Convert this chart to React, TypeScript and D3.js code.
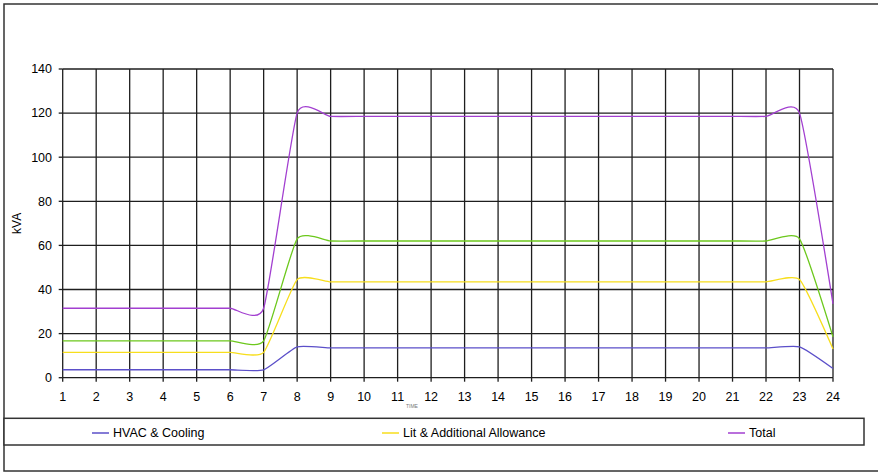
import React from "react";
import * as d3 from "d3";

// Hour of day on the x axis
const hours = [1, 2, 3, 4, 5, 6, 7, 8, 9, 10, 11, 12, 13, 14, 15, 16, 17, 18, 19, 20, 21, 22, 23, 24];

// Load profiles in kVA, one value per hour
const hvac = [3.6, 3.6, 3.6, 3.6, 3.6, 3.6, 3.6, 14, 13.5, 13.5, 13.5, 13.5, 13.5, 13.5, 13.5, 13.5, 13.5, 13.5, 13.5, 13.5, 13.5, 13.5, 14, 4.2];
const lit = [11.5, 11.5, 11.5, 11.5, 11.5, 11.5, 11.5, 44.5, 43.5, 43.5, 43.5, 43.5, 43.5, 43.5, 43.5, 43.5, 43.5, 43.5, 43.5, 43.5, 43.5, 43.5, 44.5, 13];
const generalPower = [16.7, 16.7, 16.7, 16.7, 16.7, 16.7, 16.7, 63, 62, 62, 62, 62, 62, 62, 62, 62, 62, 62, 62, 62, 62, 62, 63, 18.5];
const total = [31.5, 31.5, 31.5, 31.5, 31.5, 31.5, 31.5, 120, 118.5, 118.5, 118.5, 118.5, 118.5, 118.5, 118.5, 118.5, 118.5, 118.5, 118.5, 118.5, 118.5, 118.5, 120, 33.5];

const yTicks = [0, 20, 40, 60, 80, 100, 120, 140];

const legendItems = [
  { label: "HVAC & Cooling", color: "#5b4fc9", x: 92 },
  { label: "Lit & Additional Allowance", color: "#f7de1c", x: 382 },
  { label: "Total", color: "#a23fd0", x: 728 },
];

const seriesList = [
  { values: hvac, color: "#5b4fc9" },
  { values: lit, color: "#f7de1c" },
  { values: generalPower, color: "#6cc81c" },
  { values: total, color: "#a23fd0" },
];

export default function App() {
  const W = 878;
  const H = 473;
  const x = d3.scaleLinear().domain([1, 24]).range([62.7, 833]);
  const y = d3.scaleLinear().domain([0, 140]).range([377.7, 69]);
  const font = "'Liberation Sans', Arial, sans-serif";
  const gridColor = "#1e1e1e";

  const line = (vals: number[]) =>
    d3
      .line<number>()
      .x((_, i) => x(hours[i]))
      .y((v) => y(v))
      .curve(d3.curveCardinal.tension(0.5))(vals) || "";

  return (
    <svg
      width={W}
      height={H}
      style={{ position: "absolute", left: 0, top: 0, background: "#fff" }}
      fontFamily={font}
    >
      {/* chart frame */}
      <rect x={4} y={4} width={W + 10} height={467} fill="#fff" stroke="#333" strokeWidth={1.5} />

      {/* horizontal grid */}
      {yTicks.map((t) => (
        <g key={"y" + t}>
          <line x1={x(1)} x2={x(24)} y1={y(t)} y2={y(t)} stroke={gridColor} strokeWidth={1.3} />
          <line x1={x(1) - 4} x2={x(1)} y1={y(t)} y2={y(t)} stroke={gridColor} strokeWidth={1.3} />
          <text x={52} y={y(t)} dy="0.35em" textAnchor="end" fontSize={12.5} fill="#000">
            {t}
          </text>
        </g>
      ))}

      {/* vertical grid */}
      {hours.map((h) => (
        <g key={"x" + h}>
          <line x1={x(h)} x2={x(h)} y1={y(140)} y2={y(0)} stroke={gridColor} strokeWidth={1.3} />
          <line x1={x(h)} x2={x(h)} y1={y(0)} y2={y(0) + 4} stroke={gridColor} strokeWidth={1.3} />
          <text x={x(h)} y={401} textAnchor="middle" fontSize={12.5} fill="#000">
            {h}
          </text>
        </g>
      ))}

      {/* series */}
      {seriesList.map((s, i) => (
        <path key={i} d={line(s.values)} fill="none" stroke={s.color} strokeWidth={1.3} />
      ))}

      {/* axis titles */}
      <text
        transform={`translate(21,${y(70)}) rotate(-90)`}
        textAnchor="middle"
        fontSize={12}
        fill="#000"
      >
        kVA
      </text>
      <text x={412} y={408} textAnchor="middle" fontSize={5} fill="#777">
        TIME
      </text>

      {/* legend */}
      <rect x={4} y={418.3} width={860} height={26.7} fill="#fff" stroke="#333" strokeWidth={1.5} />
      {legendItems.map((it) => (
        <g key={it.label}>
          <line x1={it.x} x2={it.x + 17} y1={433} y2={433} stroke={it.color} strokeWidth={1.5} />
          <text x={it.x + 21} y={433} dy="0.35em" fontSize={12.5} fill="#000">
            {it.label}
          </text>
        </g>
      ))}
    </svg>
  );
}
